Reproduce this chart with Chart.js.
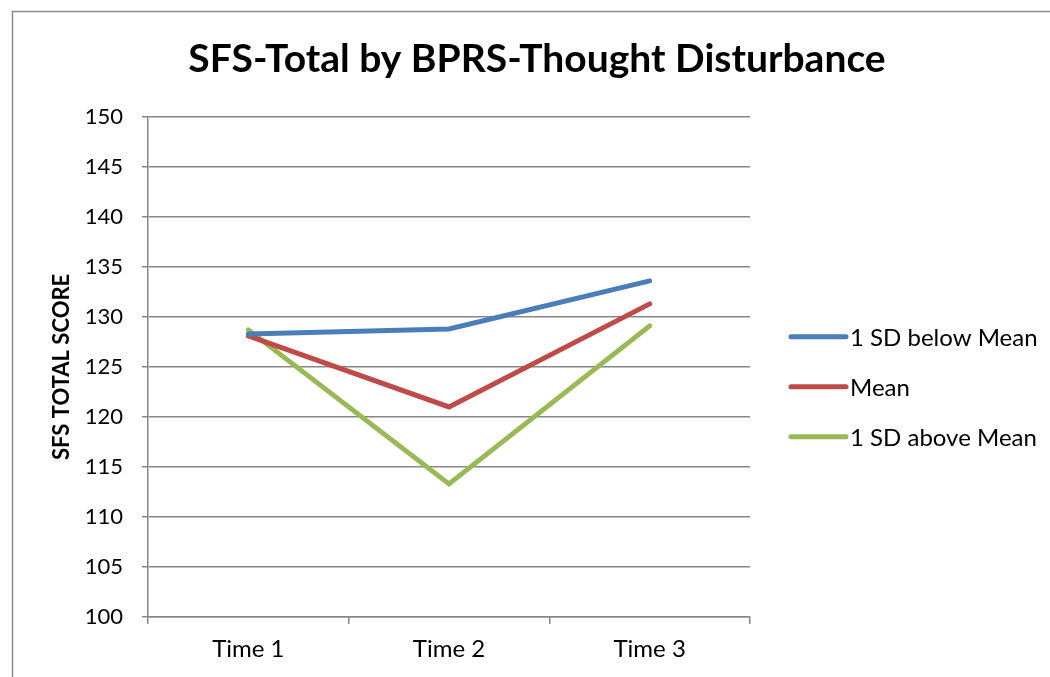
<!DOCTYPE html>
<html>
<head>
<meta charset="utf-8">
<title>SFS-Total by BPRS-Thought Disturbance</title>
<script src="https://cdn.jsdelivr.net/npm/chart.js@4/dist/chart.umd.min.js"></script>
<style>
  html, body { margin: 0; padding: 0; background: #ffffff; }
  #wrap { position: relative; width: 1050px; height: 677px; }
  canvas { display: block; }
</style>
</head>
<body>
<div id="wrap"><canvas id="chart" width="1050" height="677"></canvas></div>
<script>
// Time points on the category axis
const timePoints = ['Time 1', 'Time 2', 'Time 3'];

// SFS total score at each time point, by BPRS-Thought Disturbance level
const sdBelowMean = [128.3, 128.8, 133.6];
const meanLevel   = [128.1, 121.0, 131.3];
const sdAboveMean = [128.7, 113.3, 129.1];

const seriesNames = ['1 SD below Mean', 'Mean', '1 SD above Mean'];
const seriesColors = ['#4A7EBB', '#BE4B48', '#98B954'];

const FONT = 'Lato, "Open Sans", sans-serif';
const GRID = '#878787';

// Outer frame of the chart object
const framePlugin = {
  id: 'frame',
  beforeDraw(chart) {
    const ctx = chart.ctx;
    ctx.save();
    ctx.strokeStyle = '#8c8c8c';
    ctx.lineWidth = 1.5;
    ctx.strokeRect(12.5, 11.5, 1200, 800);
    ctx.restore();
  }
};

// Legend to the right of the plot: short line swatch followed by the series name
const sideLegend = {
  id: 'sideLegend',
  afterDraw(chart) {
    const ctx = chart.ctx;
    const area = chart.chartArea;
    const x0 = area.right + 41;
    const lineLen = 55;
    const yStart = area.top + 220;
    const step = 50;
    ctx.save();
    ctx.font = '24px ' + FONT;
    ctx.textBaseline = 'middle';
    ctx.textAlign = 'left';
    chart.data.datasets.forEach((ds, i) => {
      const y = yStart + i * step;
      ctx.strokeStyle = ds.borderColor;
      ctx.lineWidth = 5;
      ctx.lineCap = 'round';
      ctx.beginPath();
      ctx.moveTo(x0, y);
      ctx.lineTo(x0 + lineLen, y);
      ctx.stroke();
      ctx.fillStyle = '#000000';
      ctx.fillText(ds.label, x0 + lineLen + 4, y + 1);
    });
    ctx.restore();
  }
};

const series = [sdBelowMean, meanLevel, sdAboveMean];

new Chart(document.getElementById('chart'), {
  type: 'line',
  data: {
    labels: timePoints,
    datasets: series.map((vals, i) => ({
      label: seriesNames[i],
      data: vals,
      borderColor: seriesColors[i],
      backgroundColor: seriesColors[i],
      borderWidth: 5,
      borderCapStyle: 'round',
      borderJoinStyle: 'miter',
      pointRadius: 0,
      pointHoverRadius: 0,
      tension: 0,
      fill: false
    }))
  },
  options: {
    responsive: false,
    animation: false,
    events: [],
    layout: { padding: { left: 24, right: 0, top: 0, bottom: 0 } },
    plugins: {
      legend: { display: false },
      tooltip: { enabled: false },
      title: {
        display: true,
        text: 'SFS-Total by BPRS-Thought Disturbance',
        color: '#000000',
        font: { family: FONT, size: 39, weight: 'bold', lineHeight: 1.2 },
        padding: { top: 36, bottom: 34 }
      }
    },
    scales: {
      x: {
        type: 'category',
        offset: true,
        grid: {
          offset: true,
          drawOnChartArea: false,
          drawTicks: true,
          tickLength: 7,
          color: GRID,
          lineWidth: 1.5
        },
        border: { display: true, color: GRID, width: 1.5 },
        ticks: {
          color: '#000000',
          font: { family: FONT, size: 24 },
          padding: 11
        },
        afterFit(scale) { scale.height = 60; }
      },
      y: {
        min: 100,
        max: 150,
        ticks: {
          stepSize: 5,
          color: '#000000',
          font: { family: FONT, size: 22 },
          padding: 19
        },
        grid: {
          color: GRID,
          lineWidth: 1.5,
          drawTicks: true,
          tickLength: 6
        },
        border: { display: true, color: GRID, width: 1.5 },
        title: {
          display: true,
          text: 'SFS TOTAL SCORE',
          color: '#000000',
          font: { family: FONT, size: 22, weight: 'bold' },
          padding: { top: 25, bottom: 0 }
        },
        afterFit(scale) { scale.width = 124; }
      },
      // empty right-hand axis that reserves the space where the legend sits
      legendSpace: {
        type: 'linear',
        position: 'right',
        min: 0,
        max: 1,
        ticks: { display: false },
        grid: { display: false, drawTicks: false },
        border: { display: false },
        afterFit(scale) { scale.width = 300; }
      }
    }
  },
  plugins: [framePlugin, sideLegend]
});
</script>
</body>
</html>
